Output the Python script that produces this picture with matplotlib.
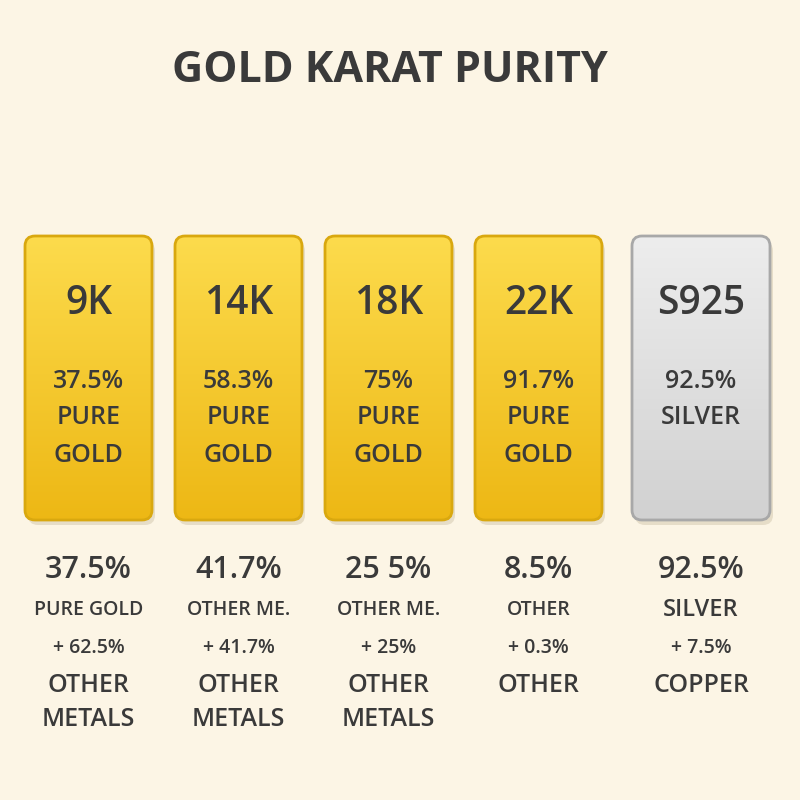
import matplotlib
matplotlib.use("Agg")
import matplotlib.pyplot as plt
from matplotlib.patches import FancyBboxPatch
import numpy as np

title = "GOLD KARAT PURITY"
labels = ["9K", "14K", "18K", "22K", "S925"]
purity_lines = [["37.5%", "PURE", "GOLD"], ["58.3%", "PURE", "GOLD"], ["75%", "PURE", "GOLD"],
                ["91.7%", "PURE", "GOLD"], ["92.5%", "SILVER"]]
big_pct = ["37.5%", "41.7%", "25 5%", "8.5%", "92.5%"]
sub_lines = [["PURE GOLD", "+ 62.5%", "OTHER", "METALS"],
             ["OTHER ME.", "+ 41.7%", "OTHER", "METALS"],
             ["OTHER ME.", "+ 25%", "OTHER", "METALS"],
             ["OTHER", "+ 0.3%", "OTHER"],
             ["SILVER", "+ 7.5%", "COPPER"]]
kinds = ["gold", "gold", "gold", "gold", "silver"]

bar_x = [25, 175, 325, 475, 632]
bar_w = [127, 127, 127, 127, 138]

plt.rcParams['font.family'] = ['Open Sans', 'DejaVu Sans']
fig = plt.figure(figsize=(8, 8), dpi=100)
fig.patch.set_facecolor("#FCF5E5")
ax = fig.add_axes([0, 0, 1, 1])
ax.set_xlim(0, 800); ax.set_ylim(800, 0); ax.axis("off")
txt = "#3a3a3a"
W = "semibold"
ax.text(390, 70, title, ha="center", va="center", fontsize=31, fontweight="bold", color=txt)

for i, lab in enumerate(labels):
    x, w = bar_x[i], bar_w[i]
    y0, h = 236, 284
    if kinds[i] == "gold":
        edge, top, bot = "#D9A80F", np.array([0.99, 0.86, 0.30]), np.array([0.93, 0.72, 0.08])
    else:
        edge, top, bot = "#A8A8A8", np.array([0.93, 0.93, 0.93]), np.array([0.82, 0.82, 0.82])
    shadow = FancyBboxPatch((x + 3, y0 + 5), w, h, boxstyle="round,pad=0,rounding_size=10",
                            fc="#d8cdb5", ec="none", alpha=0.6, zorder=1)
    ax.add_patch(shadow)
    p = FancyBboxPatch((x, y0), w, h, boxstyle="round,pad=0,rounding_size=10",
                       fc="none", ec=edge, lw=2, zorder=3)
    ax.add_patch(p)
    grad = np.linspace(0, 1, 256)[:, None]
    img = top[None, None, :] * (1 - grad[..., None]) + bot[None, None, :] * grad[..., None]
    img = np.repeat(img, 2, axis=1)
    im = ax.imshow(img, extent=(x, x + w, y0 + h, y0), zorder=2, aspect="auto")
    clip = FancyBboxPatch((x, y0), w, h, boxstyle="round,pad=0,rounding_size=10", fc="none", ec="none")
    ax.add_patch(clip); im.set_clip_path(clip)
    cx = x + w / 2
    ax.text(cx, 304, lab, ha="center", va="center", fontsize=28, fontweight=W, color=txt, zorder=4)
    for j, line in enumerate(purity_lines[i]):
        ax.text(cx, 381 + j * 37, line, ha="center", va="center", fontsize=18, fontweight=W, color=txt, zorder=4)
    ax.text(cx, 570, big_pct[i], ha="center", va="center", fontsize=22, fontweight=W, color=txt)
    for j, line in enumerate(sub_lines[i]):
        fs = 14 if j < 2 else 18
        if i == 4 and j == 0: fs = 17
        yy = [610, 648, 686, 720][j]
        ax.text(cx, yy, line, ha="center", va="center", fontsize=fs, fontweight=W, color=txt)

fig.savefig("out.png", dpi=100, facecolor=fig.get_facecolor())
